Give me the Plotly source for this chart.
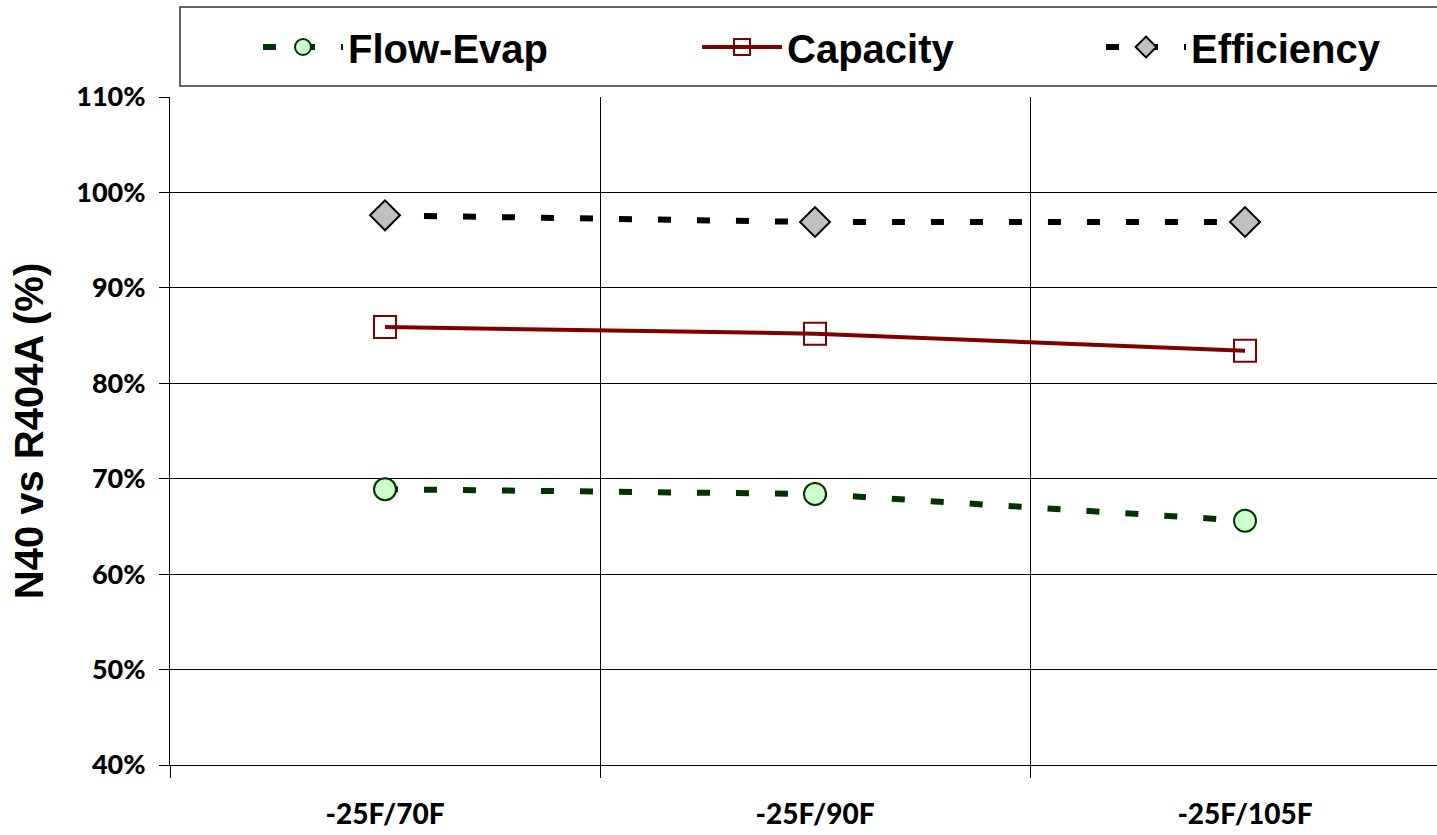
import plotly.graph_objects as go

categories = ["-25F/70F", "-25F/90F", "-25F/105F"]
flow_evap = [0.689, 0.684, 0.656]
capacity = [0.859, 0.852, 0.834]
efficiency = [0.976, 0.969, 0.969]
y_ticks = [0.4, 0.5, 0.6, 0.7, 0.8, 0.9, 1.0, 1.1]

W, H = 1437, 835
L, R, T, B = 170, 0, 97, 70
pw = W - L - R
ph = H - T - B

fig = go.Figure()
fig.add_trace(go.Scatter(
    x=categories, y=flow_evap, name="Flow-Evap", mode="lines+markers",
    line=dict(color="#003300", width=6, dash="13px,26px"),
    marker=dict(symbol="circle", size=22, color="#CCFFCC", line=dict(color="#003300", width=2)),
    legend="legend",
))
fig.add_trace(go.Scatter(
    x=categories, y=capacity, name="Capacity", mode="lines+markers",
    line=dict(color="#800000", width=4),
    marker=dict(symbol="square-open", size=22, color="#800000", line=dict(color="#800000", width=2)),
    legend="legend2",
))
fig.add_trace(go.Scatter(
    x=categories, y=efficiency, name="Efficiency", mode="lines+markers",
    line=dict(color="#000000", width=6, dash="13px,26px"),
    marker=dict(symbol="diamond", size=23, color="#C0C0C0", line=dict(color="#000000", width=2)),
    legend="legend3",
))

leg_font = dict(family="Liberation Sans, Arial", size=40, color="#000000", weight="bold")
def px_x(px):
    return (px - L) / pw
def px_y(py):
    return 1 + (T - py) / ph
leg_common = dict(font=leg_font, bgcolor="rgba(0,0,0,0)", borderwidth=0,
                  yanchor="middle", xanchor="left", orientation="h", itemwidth=80)

fig.update_layout(
    width=W, height=H,
    margin=dict(l=L, r=R, t=T, b=B, pad=0),
    paper_bgcolor="white", plot_bgcolor="white",
    legend=dict(x=px_x(258), y=px_y(47), **leg_common),
    legend2=dict(x=px_x(697), y=px_y(47), **leg_common),
    legend3=dict(x=px_x(1101), y=px_y(47), **leg_common),
    xaxis=dict(
        type="category", range=[-0.5, 2.5 - (1460 - 1437) / 430],
        tickson="boundaries", ticks="outside", ticklen=12, tickcolor="black", tickwidth=1,
        showgrid=True, gridcolor="black", gridwidth=1,
        showline=True, linecolor="black", linewidth=1,
        tickfont=dict(family="Lato, Carlito", size=28, color="black", weight=900),
        ticklabelstandoff=24,
    ),
    yaxis=dict(
        range=[0.4, 1.1], tickvals=y_ticks, tickformat=".0%",
        ticks="outside", ticklen=10, tickcolor="black",
        showgrid=True, gridcolor="black", gridwidth=1,
        showline=True, linecolor="black", linewidth=1,
        tickfont=dict(family="Lato, Carlito", size=27, color="black", weight=900),
        ticklabelstandoff=8,
        title=dict(text="N40 vs R404A (%)", standoff=20,
                   font=dict(family="Liberation Sans, Arial", size=40, color="black", weight="bold")),
        zeroline=False,
    ),
    shapes=[dict(type="rect", xref="paper", yref="paper",
                 x0=px_x(180), x1=px_x(1445), y0=px_y(86), y1=px_y(7),
                 line=dict(color="#333333", width=1.5), fillcolor="rgba(0,0,0,0)")],
    showlegend=True,
)

fig.write_html("out.html")
